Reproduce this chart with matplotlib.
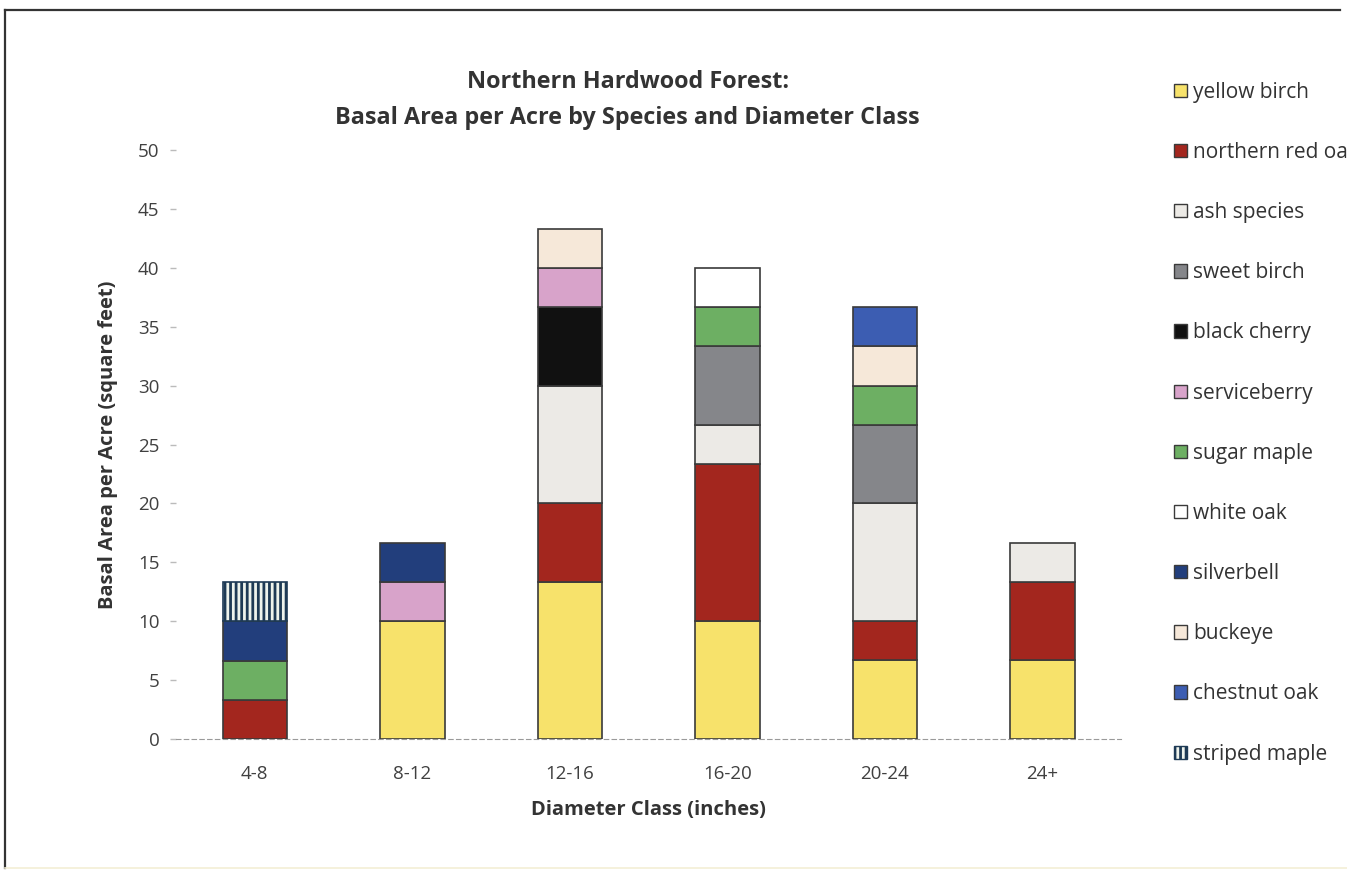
import numpy as np
import matplotlib
matplotlib.use("Agg")
import matplotlib.pyplot as plt
from matplotlib.lines import Line2D
from matplotlib.patches import Patch

plt.rcParams["font.family"] = ["Open Sans", "DejaVu Sans"]
plt.rcParams["hatch.linewidth"] = 2.0

# Basal area (sq ft / acre) by diameter class, one list per species
classes = ["4-8", "8-12", "12-16", "16-20", "20-24", "24+"]
species = ["yellow birch", "northern red oak", "ash species", "sweet birch",
           "black cherry", "serviceberry", "sugar maple", "white oak",
           "silverbell", "buckeye", "chestnut oak", "striped maple"]

yellow_birch = [0, 10, 13.33, 10, 6.67, 6.67]
northern_red_oak = [3.33, 0, 6.67, 13.33, 3.33, 6.67]
ash_species = [0, 0, 10, 3.33, 10, 3.33]
sweet_birch = [0, 0, 0, 6.67, 6.67, 0]
black_cherry = [0, 0, 6.67, 0, 0, 0]
serviceberry = [0, 3.33, 3.33, 0, 0, 0]
sugar_maple = [3.33, 0, 0, 3.33, 3.33, 0]
white_oak = [0, 0, 0, 3.33, 0, 0]
silverbell = [3.33, 3.33, 0, 0, 0, 0]
buckeye = [0, 0, 3.33, 0, 3.33, 0]
chestnut_oak = [0, 0, 0, 0, 3.33, 0]
striped_maple = [3.33, 0, 0, 0, 0, 0]

series = [yellow_birch, northern_red_oak, ash_species, sweet_birch,
          black_cherry, serviceberry, sugar_maple, white_oak,
          silverbell, buckeye, chestnut_oak, striped_maple]

colors = ["#F7E26B", "#A3261E", "#ECEAE6", "#85868A", "#111111", "#D8A3CA",
          "#6DAF63", "#FFFFFF", "#223E7C", "#F6E8D9", "#3C5DB2", "#EEF3EC"]
hatches = [None] * 11 + ["|||"]
edges = ["#3A3A3A"] * 11 + ["#1E3A55"]

fig = plt.figure(figsize=(13.47, 8.75), dpi=100)
ax = fig.add_axes([0.1307, 0.1554, 0.7016, 0.6731])

x = np.arange(len(classes))
bottom = np.zeros(len(classes))
handles = []
for name, vals, c, h, ec in zip(species, series, colors, hatches, edges):
    vals = np.array(vals, dtype=float)
    keep = vals > 0
    ax.bar(x[keep], vals[keep], bottom=bottom[keep], width=0.41,
           color=c, edgecolor=ec, linewidth=1.2, hatch=h, zorder=3)
    bottom += vals
    handles.append(Patch(facecolor=c, edgecolor=ec, hatch=h, linewidth=1.0,
                         label=name))

ax.set_xlim(-0.5, 5.5)
ax.set_ylim(0, 50)
ax.set_yticks(np.arange(0, 51, 5))
ax.set_xticks(x)
ax.set_xticklabels(classes)
for s in ("top", "right", "left"):
    ax.spines[s].set_visible(False)
ax.spines["bottom"].set_color("#9A9A9A")
ax.spines["bottom"].set_linestyle((0, (4, 3)))
ax.tick_params(axis="y", length=4, width=1, color="#BBBBBB", pad=8,
               labelsize=13.5, labelcolor="#404040")
ax.tick_params(axis="x", length=0, pad=19, labelsize=13.5, labelcolor="#404040")

ax.set_ylabel("Basal Area per Acre (square feet)", fontsize=14.5,
              fontweight="bold", color="#333333", labelpad=14)
ax.set_xlabel("Diameter Class (inches)", fontsize=14.5, fontweight="bold",
              color="#333333", labelpad=12)
fig.text(0.466, 0.886, "Northern Hardwood Forest:\n"
         "Basal Area per Acre by Species and Diameter Class",
         ha="center", va="center", fontsize=16.8, fontweight="bold",
         color="#333333", linespacing=1.65)

# legend runs past the right edge, as in the printed page
fig.legend(handles=handles, loc="upper left",
           bbox_to_anchor=(0.858, 0.928), frameon=False, fontsize=15,
           handlelength=0.6, handleheight=0.6, handletextpad=0.3,
           labelspacing=1.88, labelcolor="#333333")

# outer frame of the chart area
fig.add_artist(Line2D([5 / 1347, 5 / 1347], [1 - 10 / 875, 1 - 868 / 875],
                      transform=fig.transFigure, color="#333333", lw=1.6))
fig.add_artist(Line2D([5 / 1347, 1340 / 1347], [1 - 10 / 875, 1 - 10 / 875],
                      transform=fig.transFigure, color="#333333", lw=1.6))
fig.add_artist(Line2D([5 / 1347, 1347 / 1347], [1 - 868 / 875, 1 - 868 / 875],
                      transform=fig.transFigure, color="#F3EFD6", lw=1.2))

fig.savefig("out.png", dpi=100)
